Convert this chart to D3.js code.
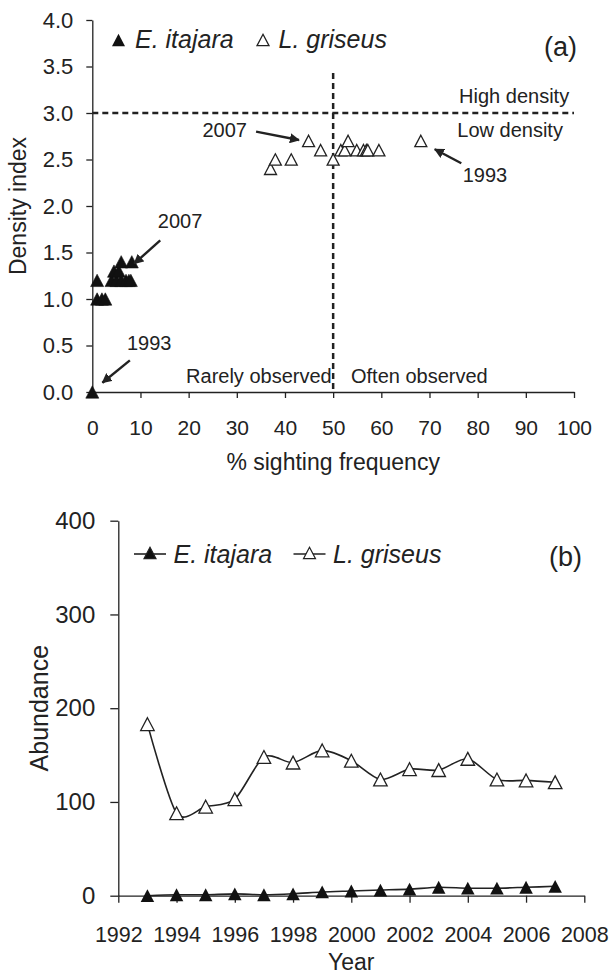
<!DOCTYPE html>
<html>
<head>
<meta charset="utf-8">
<script src="https://cdn.jsdelivr.net/npm/d3@7/dist/d3.min.js"></script>
<style>
  body { margin: 0; background: #fff; }
  text { font-family: "Liberation Sans", Arial, sans-serif; fill: #222; }
</style>
</head>
<body>
<div id="container"></div>
<script>
var width = 613;
var height = 977;
var ink = "#222";

// panel (a): % sighting frequency vs density index
var itajaraFreq    = [0, 1, 2, 2.7, 1, 4, 5, 6, 7, 7.6, 8, 4.5, 5.5, 6, 8.2];
var itajaraDensity = [0, 1.0, 1.0, 1.0, 1.2, 1.2, 1.2, 1.2, 1.2, 1.2, 1.2, 1.3, 1.3, 1.4, 1.4];
var griseusFreq    = [37, 38, 41.3, 44.9, 47.4, 50, 51.6, 52.4, 53.1, 54.9, 56.3, 56.9, 57.2, 59.5, 68.2];
var griseusDensity = [2.4, 2.5, 2.5, 2.7, 2.6, 2.5, 2.6, 2.6, 2.7, 2.6, 2.6, 2.6, 2.6, 2.6, 2.7];
var freqTicks = [0, 10, 20, 30, 40, 50, 60, 70, 80, 90, 100];
var densityTicks = [0, 0.5, 1, 1.5, 2, 2.5, 3, 3.5, 4];

// panel (b): abundance per year
var years = [1993, 1994, 1995, 1996, 1997, 1998, 1999, 2000, 2001, 2002, 2003, 2004, 2005, 2006, 2007];
var itajaraAbundance = [0, 1, 1, 2, 1, 2, 4, 5, 6, 7, 9, 8, 8, 9, 10];
var griseusAbundance = [183, 88, 95, 103, 148, 142, 155, 144, 124, 135, 134, 146, 124, 123, 121];
var yearTicks = [1992, 1994, 1996, 1998, 2000, 2002, 2004, 2006, 2008];
var abundanceTicks = [0, 100, 200, 300, 400];

const SVG = d3.select("#container")
              .append("svg")
              .attr("width", width)
              .attr("height", height);

// triangle marker centred on its bounding box
function tri(cx, cy, s) {
  var h = s * 0.95;
  return "M" + cx + "," + (cy - h / 2) +
         "L" + (cx + s / 2) + "," + (cy + h / 2) +
         "L" + (cx - s / 2) + "," + (cy + h / 2) + "Z";
}

SVG.append("defs").append("marker")
   .attr("id", "arrow")
   .attr("viewBox", "0 0 10 10")
   .attr("refX", 9).attr("refY", 5)
   .attr("markerWidth", 4.2).attr("markerHeight", 4.2)
   .attr("markerUnits", "strokeWidth")
   .attr("orient", "auto")
   .append("path")
   .attr("d", "M0,0L10,5L0,10Z")
   .attr("fill", ink);

function styleAxis(g, size) {
  g.select(".domain").attr("stroke", ink).attr("stroke-width", 1.3);
  g.selectAll(".tick line").attr("stroke", ink).attr("stroke-width", 1.3);
  g.selectAll(".tick text").attr("fill", ink).style("font-size", size + "px")
   .style("font-family", "'Liberation Sans', Arial, sans-serif");
}

/* ---------- panel (a) ---------- */
var xA = d3.scaleLinear().domain([0, 100]).range([92.3, 574]);
var yA = d3.scaleLinear().domain([0, 4]).range([392, 20]);

var gA = SVG.append("g");

gA.append("g")
  .attr("transform", "translate(0," + yA(0) + ")")
  .call(d3.axisBottom(xA).tickValues(freqTicks).tickSize(6).tickPadding(22).tickSizeOuter(0))
  .call(styleAxis, 21);

gA.append("g")
  .attr("transform", "translate(" + xA(0) + ",0)")
  .call(d3.axisLeft(yA).tickValues(densityTicks).tickFormat(d3.format(".1f")).tickSize(6).tickPadding(13).tickSizeOuter(0))
  .call(styleAxis, 22);

// threshold lines
gA.append("line")
  .attr("x1", xA(0)).attr("x2", xA(100))
  .attr("y1", yA(3)).attr("y2", yA(3))
  .attr("stroke", ink).attr("stroke-width", 2.5).attr("stroke-dasharray", "6,4");
gA.append("line")
  .attr("x1", xA(50)).attr("x2", xA(50))
  .attr("y1", yA(3.43)).attr("y2", yA(0))
  .attr("stroke", ink).attr("stroke-width", 2.5).attr("stroke-dasharray", "6,4");

gA.selectAll(".itaj")
  .data(d3.range(itajaraFreq.length))
  .enter().append("path")
  .attr("d", i => tri(xA(itajaraFreq[i]), yA(itajaraDensity[i]), 13))
  .attr("fill", "#111").attr("stroke", "#111").attr("stroke-width", 0.6);

gA.selectAll(".gris")
  .data(d3.range(griseusFreq.length))
  .enter().append("path")
  .attr("d", i => tri(xA(griseusFreq[i]), yA(griseusDensity[i]), 12))
  .attr("fill", "#fff").attr("stroke", ink).attr("stroke-width", 1.3);

// arrows: [x1, y1, x2, y2] in data units
var arrowsA = [[7.8, 0.34, 2.1, 0.1], [14.1, 1.63, 8.7, 1.38], [34, 2.8, 42.9, 2.71], [76.6, 2.46, 71.1, 2.61]];
gA.selectAll(".arr")
  .data(arrowsA)
  .enter().append("line")
  .attr("x1", d => xA(d[0])).attr("y1", d => yA(d[1]))
  .attr("x2", d => xA(d[2])).attr("y2", d => yA(d[3]))
  .attr("stroke", ink).attr("stroke-width", 2.4)
  .attr("marker-end", "url(#arrow)");

var notesA = [
  {t: "1993", x: 7.2, y: 0.45, a: "start"},
  {t: "2007", x: 13.6, y: 1.76, a: "start"},
  {t: "2007", x: 32.1, y: 2.745, a: "end"},
  {t: "1993", x: 76.9, y: 2.26, a: "start"},
  {t: "High density", x: 99, y: 3.11, a: "end"},
  {t: "Low density", x: 97.7, y: 2.745, a: "end"},
  {t: "Rarely observed", x: 49.7, y: 0.1, a: "end"},
  {t: "Often observed", x: 53.7, y: 0.1, a: "start"}
];
gA.selectAll(".note")
  .data(notesA)
  .enter().append("text")
  .attr("x", d => xA(d.x)).attr("y", d => yA(d.y))
  .attr("text-anchor", d => d.a)
  .style("font-size", "20px")
  .text(d => d.t);

gA.append("text")
  .attr("x", xA(50)).attr("y", 470)
  .attr("text-anchor", "middle")
  .style("font-size", "23px")
  .text("% sighting frequency");

gA.append("text")
  .attr("transform", "translate(26," + yA(2) + ") rotate(-90)")
  .attr("text-anchor", "middle")
  .style("font-size", "23px")
  .text("Density index");

// legend (a)
gA.append("path").attr("d", tri(118.5, 40, 13)).attr("fill", "#111");
gA.append("text").attr("x", 135).attr("y", 48).style("font-size", "25px").style("font-style", "italic").text("E. itajara");
gA.append("path").attr("d", tri(263, 40, 12)).attr("fill", "#fff").attr("stroke", ink).attr("stroke-width", 1.3);
gA.append("text").attr("x", 278.5).attr("y", 48).style("font-size", "25px").style("font-style", "italic").text("L. griseus");
gA.append("text").attr("x", 577).attr("y", 56).attr("text-anchor", "end").style("font-size", "27px").text("(a)");

/* ---------- panel (b) ---------- */
var xB = d3.scaleLinear().domain([1992, 2008]).range([118.3, 584.3]);
var yB = d3.scaleLinear().domain([0, 400]).range([895.7, 520.7]);

var gB = SVG.append("g");

gB.append("g")
  .attr("transform", "translate(0," + yB(0) + ")")
  .call(d3.axisBottom(xB).tickValues(yearTicks).tickFormat(d3.format("d")).tickSize(7).tickPadding(24).tickSizeOuter(0))
  .call(styleAxis, 21.5);

gB.append("g")
  .attr("transform", "translate(" + xB(1992) + ",0)")
  .call(d3.axisLeft(yB).tickValues(abundanceTicks).tickSize(8).tickPadding(15).tickSizeOuter(0))
  .call(styleAxis, 24);

var smooth = d3.line()
  .x((d, i) => xB(years[i]))
  .y(d => yB(d))
  .curve(d3.curveCardinal.tension(0.2));

[griseusAbundance, itajaraAbundance].forEach(function(series) {
  gB.append("path")
    .attr("d", smooth(series))
    .attr("fill", "none").attr("stroke", ink).attr("stroke-width", 1.6);
});

gB.selectAll(".itajB")
  .data(itajaraAbundance)
  .enter().append("path")
  .attr("d", (d, i) => tri(xB(years[i]), yB(d), 13.5))
  .attr("fill", "#111");

gB.selectAll(".grisB")
  .data(griseusAbundance)
  .enter().append("path")
  .attr("d", (d, i) => tri(xB(years[i]), yB(d), 13.5))
  .attr("fill", "#fff").attr("stroke", ink).attr("stroke-width", 1.3);

gB.append("text")
  .attr("x", xB(2000)).attr("y", 970)
  .attr("text-anchor", "middle")
  .style("font-size", "23px")
  .text("Year");

gB.append("text")
  .attr("transform", "translate(48," + yB(200) + ") rotate(-90)")
  .attr("text-anchor", "middle")
  .style("font-size", "25px")
  .text("Abundance");

// legend (b)
[[150, "#111", "E. itajara", 173.5], [309.5, "#fff", "L. griseus", 333]].forEach(function(l) {
  gB.append("line").attr("x1", l[0] - 16).attr("x2", l[0] + 16).attr("y1", 554).attr("y2", 554)
    .attr("stroke", ink).attr("stroke-width", 1.6);
  gB.append("path").attr("d", tri(l[0], 553, 12)).attr("fill", l[1]).attr("stroke", ink).attr("stroke-width", 1.2);
  gB.append("text").attr("x", l[3]).attr("y", 563).style("font-size", "25px").style("font-style", "italic").text(l[2]);
});
gB.append("text").attr("x", 582).attr("y", 566).attr("text-anchor", "end").style("font-size", "27px").text("(b)");
</script>
</body>
</html>
